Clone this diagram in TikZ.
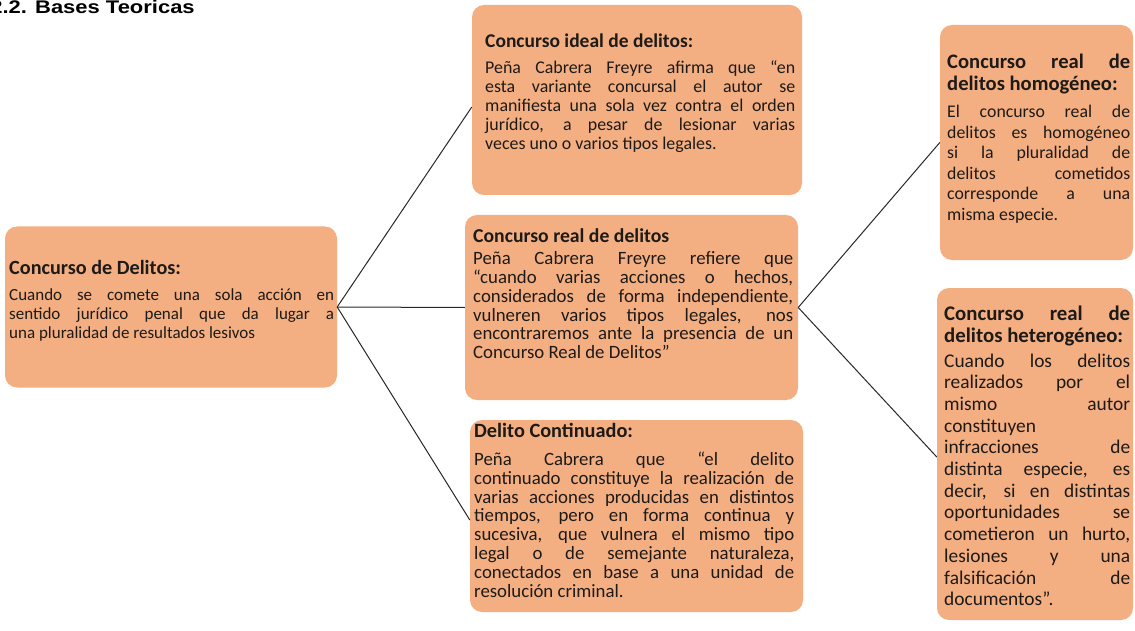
\documentclass[tikz,border=0pt]{standalone}
\usepackage{fontspec}
\newfontfamily\calfont{Carlito}
\newfontfamily\headfont[FakeStretch=1.2]{Liberation Sans}
\definecolor{boxfill}{RGB}{243,175,130}
\definecolor{ink}{RGB}{30,26,24}
\definecolor{wirecol}{RGB}{40,40,40}
\newcommand\jl[1]{\makebox[\hsize][s]{#1}}
\newcommand\ttl[3]{{\calfont\bfseries\fontsize{#1}{#2}\selectfont\spaceskip=0pt\xspaceskip=0pt\relax #3\par}}
\newcommand\bdy[3]{{\calfont\fontsize{#1}{#2}\selectfont\spaceskip=0pt\xspaceskip=0pt\relax #3\par}}
\tikzset{
  box/.style={fill=boxfill, rounded corners=12pt, inner sep=0pt, draw=none},
  txt/.style={anchor=base west, inner sep=0pt, align=left, text=ink},
  wire/.style={draw=wirecol, line width=1pt},
}
\begin{document}
\begin{tikzpicture}[x=1pt,y=-1pt]
\useasboundingbox (0,0) rectangle (1135,631);
\fill[white] (0,0) rectangle (1135,631);
\node[anchor=base west, inner sep=0pt, font=\headfont\bfseries\fontsize{18.3}{20}\selectfont, text=black] (heading) at (-9.8,13.8) {2.2. Bases Teoricas};

% boxes
\node[box, minimum width=332pt, minimum height=161pt] (root) at (171,307) {};
\node[box, minimum width=330pt, minimum height=190pt] (ideal) at (637,100) {};
\node[box, minimum width=333pt, minimum height=185pt] (real) at (631.5,307.5) {};
\node[box, minimum width=333pt, minimum height=192pt] (cont) at (636.5,516) {};
\node[box, minimum width=193pt, minimum height=235pt] (homo) at (1036.5,142.5) {};
\node[box, minimum width=196pt, minimum height=332pt] (hetero) at (1035,454) {};

% connectors
\draw[wire] (root.east) -- ([yshift=-7pt]ideal.west);
\draw[wire] (root.east) -- (real.west);
\draw[wire] (root.east) -- ([yshift=-4pt]cont.west);
\draw[wire] (real.east) -- (homo.west);
\draw[wire] (real.east) -- ([yshift=-3pt]hetero.west);

% texts
\node[txt, text width=325pt] (rootT) at (9,274.5) {\ttl{20.2}{19}{Concurso de Delitos:}\vskip6.5pt\bdy{17}{19}{\jl{Cuando se comete una sola acción en}\\\jl{sentido jurídico penal que da lugar a}\\una pluralidad de resultados lesivos}};

\node[txt, text width=310pt] (idealT) at (485,47.5) {\ttl{19.5}{19}{Concurso ideal de delitos:}\vskip7pt\bdy{17.9}{19}{\jl{Peña Cabrera Freyre afirma que “en}\\\jl{esta variante concursal el autor se}\\\jl{manifiesta una sola vez contra el orden}\\\jl{jurídico, a pesar de lesionar varias}\\veces uno o varios tipos legales.}};

\node[txt, text width=320pt] (realT) at (473,243) {\ttl{19.7}{19}{Concurso real de delitos}\vskip2.8pt\bdy{18.8}{18.8}{\jl{Peña Cabrera Freyre refiere que}\\\jl{“cuando varias acciones o hechos,}\\\jl{considerados de forma independiente,}\\\jl{vulneren varios tipos legales, nos}\\\jl{encontraremos ante la presencia de un}\\Concurso Real de Delitos”}};

\node[txt, text width=320pt] (contT) at (474,437) {\ttl{20.3}{19}{Delito Continuado:}\vskip9.6pt\bdy{18.8}{18.8}{\jl{Peña Cabrera que “el delito}\\\jl{continuado constituye la realización de}\\\jl{varias acciones producidas en distintos}\\\jl{tiempos, pero en forma continua y}\\\jl{sucesiva, que vulnera el mismo tipo}\\\jl{legal o de semejante naturaleza,}\\\jl{conectados en base a una unidad de}\\resolución criminal.}};

\node[txt, text width=183pt] (homoT) at (947,69) {\ttl{20.6}{22}{\jl{Concurso real de}\\delitos homogéneo:}\vskip6.5pt\bdy{17.8}{20.5}{\jl{El concurso real de}\\\jl{delitos es homogéneo}\\\jl{si la pluralidad de}\\\jl{delitos cometidos}\\\jl{corresponde a una}\\misma especie.}};

\node[txt, text width=186pt] (heteroT) at (944,320) {\ttl{20.8}{22}{\jl{Concurso real de}\\delitos heterogéneo:}\vskip3.3pt\bdy{19.4}{21.7}{\jl{Cuando los delitos}\\\jl{realizados por el}\\\jl{mismo autor}\\constituyen\\\jl{infracciones de}\\\jl{distinta especie, es}\\\jl{decir, si en distintas}\\\jl{oportunidades se}\\\jl{cometieron un hurto,}\\\jl{lesiones y una}\\\jl{falsificación de}\\documentos”.}};
\end{tikzpicture}
\end{document}
